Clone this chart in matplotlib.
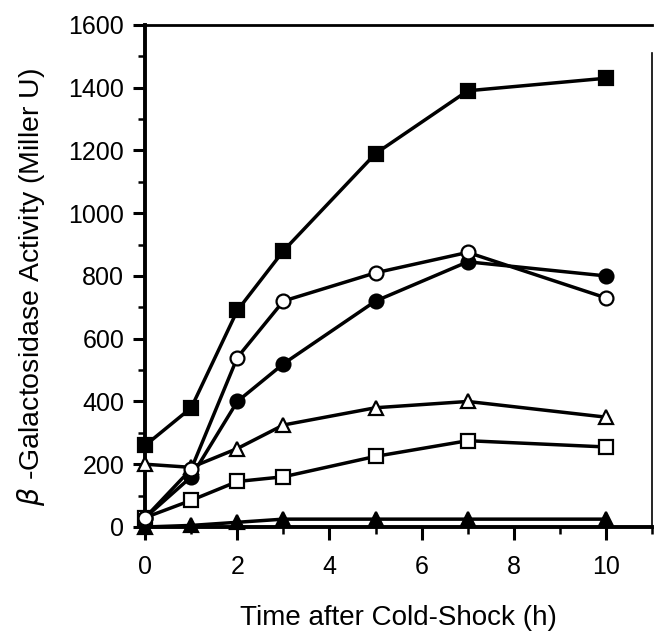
import matplotlib.pyplot as plt
from matplotlib.ticker import MultipleLocator

plt.rcParams['font.family'] = ['Liberation Sans', 'DejaVu Sans']

# Sampling times (h after cold shock)
time_h = [0, 1, 2, 3, 5, 7, 10]

# beta-galactosidase activity (Miller units), one list per curve
filled_square = [260, 380, 690, 880, 1190, 1390, 1430]
open_circle = [30, 185, 540, 720, 810, 875, 730]
filled_circle = [30, 160, 400, 520, 720, 845, 800]
open_triangle = [200, 190, 250, 325, 380, 400, 350]
open_square = [30, 85, 145, 160, 225, 275, 255]
filled_triangle = [0, 5, 15, 25, 25, 25, 25]

x_ticks = [0, 2, 4, 6, 8, 10]
y_ticks = [0, 200, 400, 600, 800, 1000, 1200, 1400, 1600]

fig = plt.figure(figsize=(6.54, 6.38), dpi=100)
ax = fig.add_axes([0.222, 0.174, 0.775, 0.787])

line_kw = dict(color='black', linewidth=2.5, markeredgewidth=1.6,
               markeredgecolor='black', clip_on=False, zorder=3)

ax.plot(time_h, filled_triangle, marker='^', markersize=10,
        markerfacecolor='black', **line_kw)
ax.plot(time_h, open_square, marker='s', markersize=10,
        markerfacecolor='white', **line_kw)
ax.plot(time_h, open_triangle, marker='^', markersize=10,
        markerfacecolor='white', **line_kw)
ax.plot(time_h, filled_circle, marker='o', markersize=10,
        markerfacecolor='black', **line_kw)
ax.plot(time_h, open_circle, marker='o', markersize=10,
        markerfacecolor='white', **line_kw)
ax.plot(time_h, filled_square, marker='s', markersize=10.5,
        markerfacecolor='black', **line_kw)

ax.set_xlim(0, 11)
ax.set_ylim(0, 1600)
ax.set_xticks(x_ticks)
ax.set_yticks(y_ticks)
ax.xaxis.set_minor_locator(MultipleLocator(1))
ax.yaxis.set_minor_locator(MultipleLocator(100))

ax.tick_params(axis='both', which='major', direction='out', length=9,
               width=2.2, labelsize=18)
ax.tick_params(axis='x', which='major', pad=11)
ax.tick_params(axis='y', which='major', pad=6)
ax.tick_params(axis='both', which='minor', direction='out', length=5,
               width=1.8)

for side in ['left', 'bottom']:
    ax.spines[side].set_linewidth(2.8)
ax.spines['top'].set_linewidth(2.0)
ax.spines['right'].set_linewidth(1.2)
ax.spines['right'].set_bounds(0, 1510)

ax.set_xlabel('Time after Cold-Shock (h)', fontsize=20)
ax.set_ylabel(r'$\beta$ -Galactosidase Activity (Miller U)', fontsize=20.5)
ax.xaxis.set_label_coords(0.5, -0.155)
ax.yaxis.set_label_coords(-0.193, 0.478)

fig.savefig('out.png', dpi=100)
